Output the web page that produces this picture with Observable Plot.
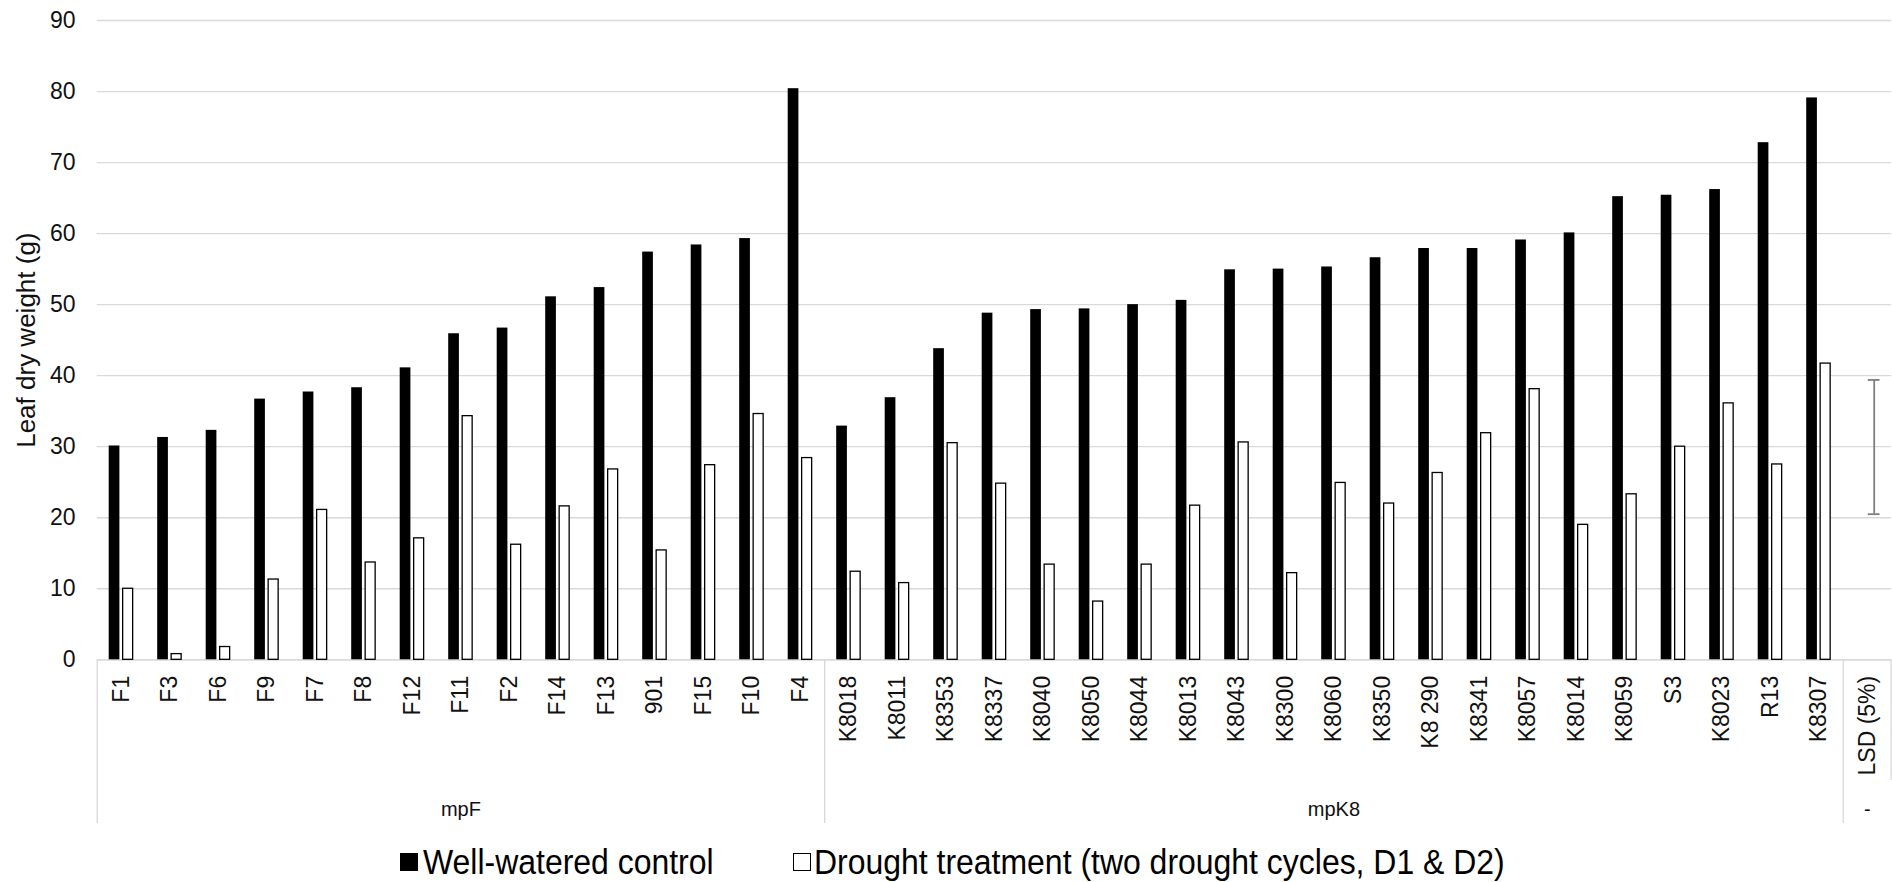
<!DOCTYPE html>
<html><head><meta charset="utf-8">
<script src="https://cdn.jsdelivr.net/npm/d3@7"></script>
<script src="https://cdn.jsdelivr.net/npm/@observablehq/plot@0.6"></script>
<style>
html,body{margin:0;padding:0;background:#fff;overflow:hidden;}
#chart svg{display:block}
#legend{position:relative;width:1892px;height:42px;font-family:"Liberation Sans",Arial,sans-serif;color:#000;}
.sw{position:absolute;width:18px;height:18px;box-sizing:border-box;}
.lt{position:absolute;font-size:35.5px;line-height:35.5px;transform:scaleX(0.9);transform-origin:0 0;white-space:nowrap;}
</style></head><body>
<div id="chart"></div>
<div id="legend"></div>
<script>
// ---- data ----
const mpF = ["F1","F3","F6","F9","F7","F8","F12","F11","F2","F14","F13","901","F15","F10","F4"];
const mpFControl = [30.1,31.3,32.3,36.7,37.7,38.3,41.1,45.9,46.7,51.1,52.4,57.4,58.4,59.3,80.4];
const mpFDrought = [10.0,0.8,1.8,11.3,21.1,13.7,17.1,34.3,16.2,21.6,26.8,15.4,27.4,34.6,28.4];
const mpK8 = ["K8018","K8011","K8353","K8337","K8040","K8050","K8044","K8013","K8043","K8300","K8060","K8350","K8 290","K8341","K8057","K8014","K8059","S3","K8023","R13","K8307"];
const mpK8Control = [32.9,36.9,43.8,48.8,49.3,49.4,50.0,50.6,54.9,55.0,55.3,56.6,57.9,57.9,59.1,60.1,65.2,65.4,66.2,72.8,79.1];
const mpK8Drought = [12.4,10.8,30.5,24.8,13.4,8.2,13.4,21.7,30.6,12.2,24.9,22.0,26.3,31.9,38.1,19.0,23.3,30.0,36.1,27.5,41.7];
const lsdLabel = "LSD (5%)";
const lsdLow = 20.5;
const lsdHigh = 39.4;
const groupNames = ["mpF","mpK8","-"];
const yTicks = [0,10,20,30,40,50,60,70,80,90];
const yTitle = "Leaf dry weight (g)";
const seriesNames = ["Well-watered control","Drought treatment (two drought cycles, D1 & D2)"];

// ---- build tables ----
const groups = [
  {name: groupNames[0], cats: mpF},
  {name: groupNames[1], cats: mpK8},
  {name: groupNames[2], cats: [lsdLabel]}
];
const domain = mpF.concat(mpK8, [lsdLabel]);
const control = mpFControl.concat(mpK8Control);
const drought = mpFDrought.concat(mpK8Drought);
const rows = mpF.concat(mpK8).map((c, i) => ({cat: c, control: control[i], drought: drought[i]}));
const groupMid = groups.map(g => ({name: g.name, cat: g.cats[Math.floor(g.cats.length / 2)]}));
const groupStarts = groups.map(g => g.cats[0]);
const lsd = [{cat: lsdLabel, low: lsdLow, high: lsdHigh}];
const lsdEnds = [{cat: lsdLabel, v: lsdLow}, {cat: lsdLabel, v: lsdHigh}];

// ---- layout ----
const W = 1892, H = 840, ML = 96.7, MR = 0.8, MT = 20, Y0 = 659.3, MB = H - Y0;
const step = (W - ML - MR) / domain.length;
const half = step / 2;
const whiteCenter = 31; // offset of drought bar centre from band start

const chart = Plot.plot({
  width: W, height: H,
  marginLeft: ML, marginRight: MR, marginTop: MT, marginBottom: MB,
  x: {type: "band", domain, padding: 0, round: false},
  y: {domain: [0, 90]},
  style: {fontFamily: '"Liberation Sans", Arial, sans-serif', fontSize: "23px", color: "#111", background: "white", overflow: "visible"},
  marks: [
    Plot.gridY({ticks: yTicks, stroke: "#d9d9d9", strokeOpacity: 1, strokeWidth: 1.3}),
    Plot.axisY({ticks: yTicks, tickSize: 0, tickPadding: 21.7, fontSize: 23, label: null}),
    Plot.ruleY([0], {stroke: "#d9d9d9", strokeWidth: 1.3}),
    Plot.barY(rows, {x: "cat", y: "control", fill: "black", insetLeft: 12, insetRight: step - 22.7}),
    Plot.barY(rows, {x: "cat", y: "drought", fill: "white", stroke: "black", strokeWidth: 1.3, insetLeft: 25.95, insetRight: step - 35.95}),
    Plot.ruleX(lsd, {x: "cat", y1: "low", y2: "high", dx: whiteCenter - half, stroke: "#7f7f7f", strokeWidth: 1.8}),
    Plot.tickY(lsdEnds, {x: "cat", y: "v", stroke: "#7f7f7f", strokeWidth: 1.8, insetLeft: whiteCenter - 5.9, insetRight: step - whiteCenter - 5.9}),
    Plot.axisX({tickRotate: -90, tickSize: 0, tickPadding: 16, fontSize: 23, label: null}),
    Plot.ruleX(groupStarts, {dx: -half, stroke: "#d9d9d9", strokeWidth: 1.3, insetTop: Y0 - MT, insetBottom: Y0 - 823}),
    Plot.ruleX([lsdLabel], {dx: half - 0.6, stroke: "#d9d9d9", strokeWidth: 1.3, insetTop: Y0 - MT, insetBottom: Y0 - 780}),
    Plot.text(groupMid, {x: "cat", text: "name", frameAnchor: "bottom", dy: 149.6, fontSize: 20, lineAnchor: "middle"}),
    Plot.text([yTitle], {text: d => d, frameAnchor: "left", textAnchor: "middle", rotate: -90, dx: 25.8 - ML, fontSize: 26, lineAnchor: "middle"})
  ]
});
document.getElementById("chart").appendChild(chart);

// ---- legend (below the SVG) ----
const legend = document.getElementById("legend");
const items = [
  {left: 400, textLeft: 423, fill: "#000", border: "none"},
  {left: 793, textLeft: 814, fill: "#fff", border: "1.3px solid #000"}
];
items.forEach((it, i) => {
  const sw = document.createElement("div");
  sw.className = "sw";
  sw.style.left = it.left + "px";
  sw.style.top = "12.5px";
  sw.style.background = it.fill;
  sw.style.border = it.border;
  legend.appendChild(sw);
  const t = document.createElement("div");
  t.className = "lt";
  t.style.left = it.textLeft + "px";
  t.style.top = "5px";
  t.textContent = seriesNames[i];
  legend.appendChild(t);
});
</script>
</body></html>
